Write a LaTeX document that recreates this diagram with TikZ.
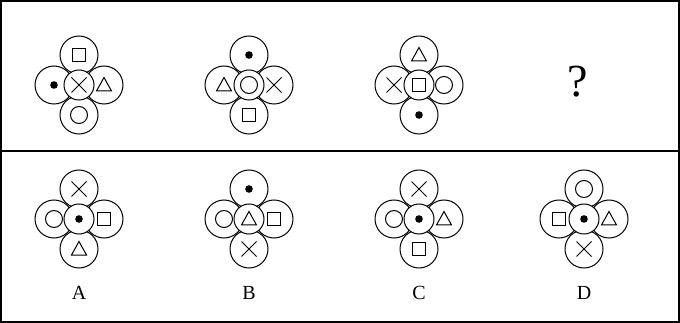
\documentclass[tikz,border=0pt]{standalone}
\usepackage{fontspec}
\setmainfont{Liberation Serif}
\usetikzlibrary{positioning,calc}

\tikzset{
  petal/.style={circle,draw,fill=white,inner sep=0pt,minimum size=38pt},
  hub/.style={circle,draw,fill=white,inner sep=0pt,minimum size=30pt},
  pics/sq/.style={code={\draw (-6.5,-6.5) rectangle (6.5,6.5);}},
  pics/tri/.style={code={\draw (-7.5,6) -- (7.5,6) -- (0,-7.5) -- cycle;}},
  pics/crc/.style={code={\draw (0,0) circle (8.5);}},
  pics/crs/.style={code={\draw (-7.5,-7.5) -- (7.5,7.5) (-7.5,7.5) -- (7.5,-7.5);}},
  pics/dot/.style={code={\fill (0,0) circle (3.8);}},
}

% #1 name, #2 top, #3 left, #4 middle, #5 right, #6 bottom
\newcommand\flower[6]{%
  \begin{scope}[shift={(#1)}]
    \node[petal] (#1-t) at (0,-30) {};
    \node[petal] (#1-l) at (-25,0) {};
    \node[petal] (#1-r) at (25,0) {};
    \node[petal] (#1-b) at (0,30) {};
    \node[hub] (#1-m) at (0,0) {};
  \end{scope}
  \pic at (#1-t) {#2};
  \pic at (#1-l) {#3};
  \pic at (#1-m) {#4};
  \pic at (#1-r) {#5};
  \pic at (#1-b) {#6};
}

\begin{document}
\begin{tikzpicture}[x=1pt,y=-1pt,line width=1pt]
\useasboundingbox (0,0) rectangle (680,323);
% frame and separator
\draw[line width=2pt] (1,1) rectangle (678.5,321.5);
\draw[line width=1.5pt] (1,151) -- (678.5,151);
% question row
\coordinate (q1) at (79,85);
\coordinate (q2) at (249,85);
\coordinate (q3) at (419,85);
\flower{q1}{sq}{dot}{crs}{tri}{crc}
\flower{q2}{dot}{tri}{crc}{crs}{sq}
\flower{q3}{tri}{crs}{sq}{crc}{dot}
\node[font=\fontsize{46}{50}\selectfont] (qm) at (578,82) {?};
% answer row
\coordinate (a1) at (79,219);
\coordinate (a2) at (249,219);
\coordinate (a3) at (419,219);
\coordinate (a4) at (584,219);
\flower{a1}{crs}{crc}{dot}{sq}{tri}
\flower{a2}{dot}{crc}{tri}{sq}{crs}
\flower{a3}{crs}{crc}{dot}{tri}{sq}
\flower{a4}{crc}{sq}{dot}{tri}{crs}
\foreach \n/\t in {a1/A,a2/B,a3/C,a4/D}{
  \node[font=\fontsize{20}{22}\selectfont] (lab-\n) at ($(\n)+(0,74)$) {\t};
}
\end{tikzpicture}
\end{document}
